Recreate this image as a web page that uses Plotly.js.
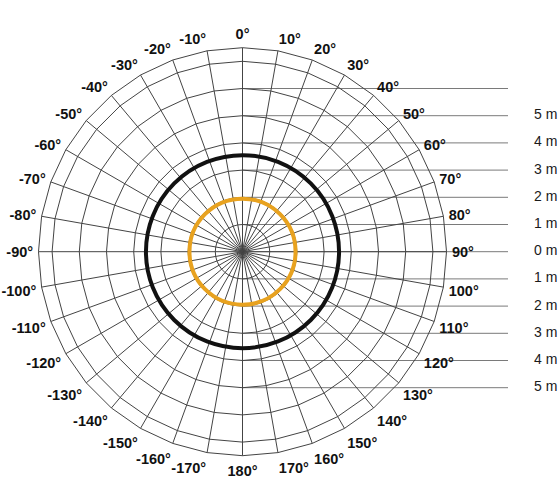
<!DOCTYPE html>
<html>
<head>
<meta charset="utf-8">
<script src="https://cdn.plot.ly/plotly-3.0.1.min.js"></script>
<style>
  html, body { margin: 0; padding: 0; background: #fff; }
  #chart { width: 560px; height: 504px; }
</style>
</head>
<body>
<div id="chart"></div>
<script>
// Angular categories, clockwise from the top
const angleLabels = [
  '0°', '10°', '20°', '30°', '40°', '50°', '60°', '70°', '80°', '90°',
  '100°', '110°', '120°', '130°', '140°', '150°', '160°', '170°', '180°',
  '-170°', '-160°', '-150°', '-140°', '-130°', '-120°', '-110°', '-100°',
  '-90°', '-80°', '-70°', '-60°', '-50°', '-40°', '-30°', '-20°', '-10°'
];

// Distance scale on the right (metres above / below the axis)
const meterLevels = [6, 5, 4, 3, 2, 1, 0, -1, -2, -3, -4, -5];
const meterLabels = ['', '5 m', '4 m', '3 m', '2 m', '1 m', '0 m', '1 m', '2 m', '3 m', '4 m', '5 m'];

// Beam diameters drawn as circles (radius in metres)
const beamNames = ['Outer beam', 'Inner beam'];
const beamRadii = [3.55, 1.95];
const beamColors = ['#111111', '#e8a21f'];

// Page geometry
const W = 560, H = 504;
const cx = 242.5, cy = 251.7, R = 204;      // centre and outer radius of the polar grid, px
const rMax = 7.5;                            // radial range in metres
const unit = R / rMax;                       // px per metre
const lineEndPx = 508, labelPx = 534;

const xRange = [-cx / unit, (W - cx) / unit];
const yRange = [-(H - cy) / unit, cy / unit];
const lineEnd = (lineEndPx - cx) / unit;
const labelX = (labelPx - cx) / unit;

const traces = [];

// Horizontal distance lines
meterLevels.forEach(function (lv) {
  traces.push({
    type: 'scatter', mode: 'lines', xaxis: 'x', yaxis: 'y',
    x: [0, lineEnd], y: [lv, lv],
    line: { color: '#7a7a7a', width: 1 },
    hoverinfo: 'skip', showlegend: false
  });
});

// Distance labels
traces.push({
  type: 'scatter', mode: 'text', xaxis: 'x', yaxis: 'y',
  x: meterLevels.map(function () { return labelX; }),
  y: meterLevels,
  text: meterLabels,
  textposition: 'middle right',
  textfont: { family: 'Liberation Sans, Arial, sans-serif', size: 14, color: '#1a1a1a' },
  hoverinfo: 'skip', showlegend: false
});

// Polar grid (category axis so rings are drawn as polygons)
traces.push({
  type: 'scatterpolar', subplot: 'polar', mode: 'markers',
  theta: angleLabels, r: angleLabels.map(function () { return 0; }),
  marker: { size: 1, opacity: 0 },
  hoverinfo: 'skip', showlegend: false
});

// Beam circles on the cartesian overlay
const shapes = beamRadii.map(function (r, i) {
  return {
    type: 'circle', xref: 'x', yref: 'y', layer: 'above',
    x0: -r, x1: r, y0: -r, y1: r,
    line: { color: beamColors[i], width: 4 },
    name: beamNames[i]
  };
});

const layout = {
  width: W, height: H,
  margin: { l: 0, r: 0, t: 0, b: 0 },
  paper_bgcolor: '#ffffff',
  plot_bgcolor: 'rgba(0,0,0,0)',
  showlegend: false,
  font: { family: 'Liberation Sans, Arial, sans-serif', color: '#111' },
  xaxis: { range: xRange, visible: false, fixedrange: true, domain: [0, 1] },
  yaxis: { range: yRange, visible: false, fixedrange: true, domain: [0, 1] },
  polar: {
    domain: { x: [(cx - R) / W, (cx + R) / W], y: [1 - (cy + R) / H, 1 - (cy - R) / H] },
    bgcolor: 'rgba(0,0,0,0)',
    gridshape: 'linear',
    angularaxis: {
      type: 'category',
      categoryorder: 'array', categoryarray: angleLabels,
      rotation: 90, direction: 'clockwise',
      showgrid: true, gridcolor: '#444', gridwidth: 1,
      showline: true, linecolor: '#444', linewidth: 1,
      ticks: 'outside', ticklen: 2, tickcolor: 'rgba(0,0,0,0)',
      tickfont: { family: 'Liberation Sans, Arial, sans-serif', size: 14.5, color: '#111', weight: 'bold' }
    },
    radialaxis: {
      range: [0, rMax], tick0: 0, dtick: 1,
      showgrid: true, gridcolor: '#444', gridwidth: 1,
      showline: false, showticklabels: false, ticks: ''
    }
  },
  shapes: shapes
};

Plotly.newPlot('chart', traces, layout, { staticPlot: true, displayModeBar: false });
</script>
</body>
</html>
